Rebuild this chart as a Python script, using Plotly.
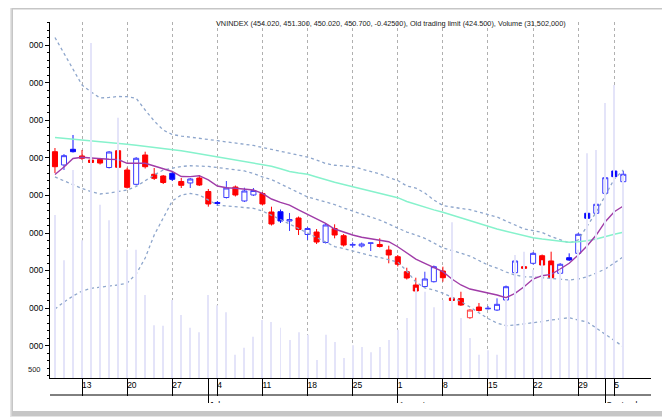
import datetime as dt
import plotly.graph_objects as go

# ---------------- data ----------------
DATES = [
    "2011-06-08", "2011-06-09", "2011-06-10", "2011-06-13", "2011-06-14", "2011-06-15",
    "2011-06-16", "2011-06-17", "2011-06-20", "2011-06-21", "2011-06-22", "2011-06-23",
    "2011-06-24", "2011-06-27", "2011-06-28", "2011-06-29", "2011-06-30", "2011-07-01",
    "2011-07-04", "2011-07-05", "2011-07-06", "2011-07-07", "2011-07-08", "2011-07-11",
    "2011-07-12", "2011-07-13", "2011-07-14", "2011-07-15", "2011-07-18", "2011-07-19",
    "2011-07-20", "2011-07-21", "2011-07-22", "2011-07-25", "2011-07-26", "2011-07-27",
    "2011-07-28", "2011-07-29", "2011-08-01", "2011-08-02", "2011-08-03", "2011-08-04",
    "2011-08-05", "2011-08-08", "2011-08-09", "2011-08-10", "2011-08-11", "2011-08-12",
    "2011-08-15", "2011-08-16", "2011-08-17", "2011-08-18", "2011-08-19", "2011-08-22",
    "2011-08-23", "2011-08-24", "2011-08-25", "2011-08-26", "2011-08-29", "2011-08-30",
    "2011-08-31", "2011-09-01", "2011-09-05", "2011-09-06",
]
OPEN = [460.84, 459.07, 461.16, 460.27, 459.73, 459.80, 458.73, 460.97, 458.40, 456.49,
        460.40, 457.83, 457.60, 457.96, 456.87, 456.67, 457.33, 455.53, 454.07, 454.73,
        456.13, 454.27, 455.07, 455.27, 452.80, 452.84, 451.60, 452.00, 449.80, 450.13,
        448.73, 450.60, 449.64, 448.37, 448.27, 448.63, 448.47, 447.73, 446.84, 444.84,
        443.07, 442.87, 443.51, 444.93, 441.33, 441.27, 438.71, 440.13, 439.89, 439.73,
        441.07, 444.71, 445.51, 445.96, 446.97, 446.27, 444.63, 446.71, 447.29, 452.63,
        452.63, 455.29, 458.27, 456.84]
HIGH = [461.33, 460.53, 463.07, 461.07, 459.87, 460.00, 460.93, 461.07, 458.71, 460.13,
        460.84, 458.67, 457.73, 458.27, 457.33, 457.33, 457.73, 455.87, 454.27, 456.93,
        456.33, 456.04, 456.00, 455.47, 453.51, 453.13, 452.67, 452.20, 450.80, 450.53,
        451.20, 451.16, 449.87, 448.76, 448.73, 448.67, 449.29, 448.31, 447.07, 445.37,
        444.04, 444.84, 445.67, 445.51, 441.47, 442.17, 439.87, 440.67, 440.27, 441.29,
        443.00, 446.40, 445.51, 447.47, 447.13, 447.51, 446.00, 447.29, 450.00, 452.80,
        454.00, 457.53, 458.40, 458.27]
LOW = [458.00, 458.40, 460.73, 459.73, 459.20, 459.13, 458.60, 458.67, 455.93, 456.33,
       458.60, 457.07, 456.53, 456.93, 456.00, 456.00, 456.27, 453.51, 453.60, 454.60,
       454.87, 454.13, 454.93, 453.67, 451.00, 451.33, 450.27, 449.73, 449.07, 448.53,
       448.60, 449.29, 448.20, 448.04, 448.07, 447.60, 448.07, 445.96, 445.53, 443.80,
       441.51, 442.73, 443.40, 443.51, 440.87, 440.27, 438.53, 439.53, 439.80, 439.60,
       440.93, 444.57, 444.17, 445.80, 445.60, 443.91, 444.47, 446.27, 447.13, 451.80,
       452.47, 455.13, 457.29, 456.73]
CLOSE = [458.84, 460.31, 460.84, 459.96, 459.40, 459.33, 460.80, 458.76, 456.09, 459.96,
         458.84, 457.29, 456.73, 457.16, 456.36, 457.20, 456.40, 453.87, 453.95, 456.00,
         455.07, 455.60, 455.67, 453.87, 451.20, 451.60, 451.80, 450.47, 450.60, 448.80,
         451.07, 449.73, 448.40, 448.47, 448.53, 448.67, 448.20, 447.07, 445.83, 444.00,
         442.27, 443.87, 445.51, 444.04, 441.00, 440.40, 439.73, 439.67, 439.96, 440.49,
         442.84, 446.27, 445.29, 447.29, 445.73, 444.04, 445.83, 446.40, 449.83, 451.96,
         453.83, 457.37, 457.51, 457.83]
VOLUME_M = [25.3, 18.3, 32.3, 21.4, 52.0, 26.9, 24.5, 40.4, 19.9, 19.9,
            12.9, 8.2, 8.1, 12.1, 9.8, 7.8, 7.1, 12.9, 11.3, 10.2,
            3.6, 4.7, 6.4, 9.0, 8.7, 7.8, 5.9, 7.1, 6.7, 2.8,
            6.7, 5.6, 3.1, 5.1, 4.8, 4.0, 4.8, 5.9, 7.5, 9.3,
            14.0, 13.4, 11.0, 12.1, 24.2, 9.3, 6.2, 3.6, 4.3, 3.6,
            12.4, 19.1, 19.6, 16.8, 18.3, 17.5, 16.8, 15.2, 19.9, 34.9,
            35.4, 42.7, 45.5, 31.5]
MA_SHORT = [457.80, 458.80, 459.93, 460.09, 460.00, 459.87, 459.83, 459.80, 459.29, 459.29,
            459.29, 458.93, 458.60, 458.20, 457.53, 457.51, 457.64, 457.07, 456.27, 456.04,
            455.96, 455.83, 455.73, 455.29, 454.53, 454.09, 453.73, 453.07, 452.49, 451.87,
            451.29, 450.53, 450.09, 449.73, 449.43, 449.20, 449.07, 448.84, 448.17, 447.33,
            446.53, 445.96, 445.37, 444.84, 443.87, 443.07, 442.53, 442.27, 442.09, 441.73,
            441.37, 441.96, 442.84, 443.87, 444.31, 444.49, 445.20, 445.96, 447.07, 448.31,
            449.73, 451.51, 452.84, 453.60]
MA_LONG = [462.73, 462.63, 462.51, 462.40, 462.28, 462.17, 462.07, 461.95, 461.83, 461.71,
           461.57, 461.44, 461.31, 461.16, 460.96, 460.76, 460.56, 460.37, 460.17, 459.97,
           459.77, 459.57, 459.37, 459.17, 458.91, 458.56, 458.20, 458.00, 457.83, 457.47,
           457.09, 456.77, 456.48, 456.17, 455.88, 455.59, 455.29, 455.00, 454.71, 454.21,
           453.81, 453.44, 453.08, 452.76, 452.39, 452.00, 451.61, 451.23, 450.84, 450.53,
           450.24, 449.95, 449.65, 449.37, 449.20, 449.04, 448.89, 448.77, 448.84, 448.96,
           449.19, 449.53, 449.84, 450.09]
BB_UPPER = [476.07, 473.95, 471.84, 469.73, 468.80, 468.00, 468.07, 468.20, 468.17, 467.96,
            466.40, 464.93, 463.73, 463.13, 462.93, 462.80, 462.67, 462.47, 462.31, 462.16,
            462.00, 461.83, 461.67, 461.40, 461.13, 460.91, 460.63, 460.40, 460.13, 459.73,
            459.27, 459.03, 458.93, 458.84, 458.53, 458.20, 457.87, 457.40, 457.00, 456.27,
            456.00, 455.33, 454.40, 453.67, 453.43, 453.27, 453.11, 452.80, 452.47, 452.13,
            451.60, 451.07, 450.53, 450.33, 450.07, 449.53, 449.07, 448.67, 449.07, 451.00,
            452.80, 455.00, 457.20, 458.40]
BB_MID = [457.47, 456.93, 456.40, 455.93, 455.53, 455.20, 455.33, 455.53, 455.73, 456.20,
          457.00, 457.73, 458.40, 458.67, 458.87, 458.97, 458.93, 458.87, 458.73, 458.60,
          458.47, 458.27, 457.93, 457.47, 457.13, 456.53, 456.00, 455.40, 454.80, 454.47,
          454.13, 453.80, 453.33, 452.93, 452.53, 452.13, 451.73, 451.20, 450.67, 450.13,
          449.73, 449.29, 448.67, 448.00, 447.67, 447.33, 446.93, 446.33, 445.73, 445.33,
          444.80, 444.40, 444.17, 444.13, 444.04, 443.93, 443.83, 443.73, 443.87, 444.17,
          444.67, 445.20, 446.00, 446.84]
BB_LOWER = [439.87, 440.80, 441.60, 442.27, 442.63, 442.73, 442.93, 443.07, 443.33, 444.53,
            446.67, 449.73, 452.00, 454.27, 455.07, 455.27, 455.07, 454.40, 453.73, 453.60,
            453.51, 453.40, 453.29, 452.93, 452.40, 451.80, 451.20, 450.60, 450.00, 449.33,
            448.73, 448.20, 447.93, 447.60, 447.27, 447.00, 446.73, 446.47, 446.13, 444.93,
            443.47, 442.67, 442.40, 442.00, 441.40, 440.87, 440.13, 439.33, 438.60, 438.00,
            437.64, 437.73, 437.87, 438.07, 438.20, 438.40, 438.60, 438.71, 438.40, 438.13,
            437.33, 436.53, 435.73, 434.84]
Y_TICK_VALUES = [435, 440, 445, 450, 455, 460, 465, 470, 475]
Y_TICK_LABELS = ["435000", "440000", "445000", "450000", "455000",
                 "460000", "465000", "470000", "475000"]
MONTH_NAMES = {6: "June", 7: "July", 8: "August", 9: "September"}
TITLE_TEXT = ("VNINDEX (454.020, 451.300, 450.020, 450.700, -0.42500), "
              "Old trading limit (424.500), Volume (31,502,000)")
VOLUME_NOTE = "500"

# ---------------- derived helpers ----------------
X = list(range(len(DATES)))
days = [dt.date.fromisoformat(d) for d in DATES]
monday_idx = [i for i, d in enumerate(days) if d.weekday() == 0]
monday_txt = [str(days[i].day) for i in monday_idx]
month_idx = [i for i in range(1, len(days)) if days[i].month != days[i - 1].month]
month_txt = [MONTH_NAMES[days[i].month] for i in month_idx]

prev_close = [OPEN[0]] + CLOSE[:-1]
up_day = [c >= p for c, p in zip(CLOSE, prev_close)]


def pick(arr, want):
    return [v for v, f in zip(arr, up_day) if f == want]


FONT = "Liberation Sans, Arial, sans-serif"
PAGE_W, PAGE_H = 670, 417
BODY = 8                      # default page margin around the plotly div
W, H = PAGE_W - BODY, PAGE_H - BODY
PL, PT, PR, PB = 50, 22, 651, 378  # plot area in page pixels
X_RANGE = [-0.55, 66.07]
Y_RANGE = [430.67, 478.13]
VOL_RANGE = [0, 55.28]

fig = go.Figure()

band_style = dict(color="#8ea6cc", width=1.3, dash="dot")
for arr in (BB_UPPER, BB_MID, BB_LOWER):
    fig.add_trace(go.Scatter(x=X, y=arr, mode="lines", line=band_style,
                             hoverinfo="skip", showlegend=False))
fig.add_trace(go.Scatter(x=X, y=MA_LONG, mode="lines",
                         line=dict(color="#86f2cc", width=1.5), showlegend=False))
fig.add_trace(go.Scatter(x=X, y=MA_SHORT, mode="lines",
                         line=dict(color="#a03ca8", width=1.4), showlegend=False))

# blue: close above previous close; red: close below previous close
for want, c_line, c_fill, c_hollow in ((True, "#1010ff", "#0000ff", "#3c3cff"),
                                       (False, "#ff0000", "#ff0000", "#ff4040")):
    fig.add_trace(go.Candlestick(
        x=pick(X, want), open=pick(OPEN, want), high=pick(HIGH, want),
        low=pick(LOW, want), close=pick(CLOSE, want),
        increasing=dict(line=dict(color=c_hollow, width=1), fillcolor="white"),
        decreasing=dict(line=dict(color=c_line, width=1), fillcolor=c_fill),
        whiskerwidth=0, showlegend=False))

fig.add_trace(go.Bar(x=X, y=VOLUME_M, xaxis="x2", yaxis="y2", width=0.11,
                     marker=dict(color="#e4e4f9", line=dict(width=0)),
                     showlegend=False))


def prect(x0, y0, x1, y1, **kw):
    return dict(type="rect", xref="paper", yref="paper", xsizemode="pixel",
                ysizemode="pixel", xanchor=0, yanchor=0,
                x0=x0 - PL, x1=x1 - PL, y0=PB - y0, y1=PB - y1, **kw)


def pline(x0, y0, x1, y1, **kw):
    d = prect(x0, y0, x1, y1, **kw)
    d["type"] = "line"
    return d


shapes = [
    prect(10, 8, 669, 417, fillcolor="#e4e4e4", line=dict(width=0), layer="below"),
    prect(11.5, 8, 667, 416, fillcolor="#c6c6c6", line=dict(width=0), layer="below"),
    prect(13, 9.5, 663, 411, fillcolor="white", line=dict(width=0), layer="below"),
    # clipping of the original screenshot
    prect(13.5, 12, 29.3, 405, fillcolor="white", line=dict(width=0), layer="above"),
    prect(13.5, 403, 662.5, 410.8, fillcolor="white", line=dict(width=0), layer="above"),
    # second row line of the date axis
    pline(PL, 395, PR, 395, line=dict(color="black", width=1), layer="above"),
]


def px_to_paper(px, py):
    return (px - PL) / (PR - PL), (PB - py) / (PB - PT)


tx, ty = px_to_paper(214, 23.5)
vx, vy = px_to_paper(34, 369)
annotations = [
    dict(text=TITLE_TEXT, x=tx, y=ty, xref="paper", yref="paper", xanchor="left",
         yanchor="middle", showarrow=False, font=dict(family=FONT, size=7.3, color="#222")),
    dict(text=VOLUME_NOTE, x=vx, y=vy, xref="paper", yref="paper", xanchor="center",
         yanchor="middle", showarrow=False, font=dict(family=FONT, size=7.5, color="#222")),
]

fig.update_layout(
    width=W, height=H, autosize=False,
    margin=dict(l=PL - BODY, r=PAGE_W - PR, t=PT - BODY, b=PAGE_H - PB, pad=0,
                autoexpand=False),
    paper_bgcolor="white", plot_bgcolor="rgba(0,0,0,0)",
    showlegend=False, boxgap=0.2, hovermode=False,
    font=dict(family=FONT, size=8.5, color="black"),
    shapes=shapes, annotations=annotations,
    xaxis=dict(range=X_RANGE, tickmode="array", tickvals=month_idx, ticktext=month_txt,
               ticks="outside", ticklen=25, tickwidth=1, tickcolor="black",
               ticklabelposition="outside right", ticklabelstandoff=19,
               tickfont=dict(size=8.5), automargin=False,
               minor=dict(tickmode="array", tickvals=monday_idx, ticks="outside",
                          ticklen=17, tickwidth=1, tickcolor="black", showgrid=False),
               showgrid=False, zeroline=False, showline=True, linecolor="black",
               linewidth=1, rangeslider=dict(visible=False), fixedrange=True),
    xaxis2=dict(overlaying="x", anchor="y2", side="bottom", range=X_RANGE,
                tickmode="array", tickvals=monday_idx, ticktext=monday_txt,
                ticks="", ticklabelposition="outside right", tickfont=dict(size=8.5),
                automargin=False,
                showgrid=True, gridcolor="#b0b0b0", gridwidth=1, griddash="3px,3px",
                zeroline=False, showline=False, fixedrange=True),
    yaxis=dict(range=Y_RANGE, tickmode="array", tickvals=Y_TICK_VALUES,
               ticktext=Y_TICK_LABELS, ticks="outside", ticklen=4, tickwidth=1,
               tickcolor="black", tickfont=dict(size=8.5), automargin=False,
               minor=dict(tickmode="linear", tick0=0, dtick=1, ticks="outside",
                          ticklen=2, tickwidth=1, tickcolor="black"),
               showgrid=False, zeroline=False, showline=True, linecolor="black",
               linewidth=1, fixedrange=True),
    yaxis2=dict(overlaying="y", range=VOL_RANGE, visible=False, fixedrange=True,
                automargin=False),
)

fig.write_html("out.html")
